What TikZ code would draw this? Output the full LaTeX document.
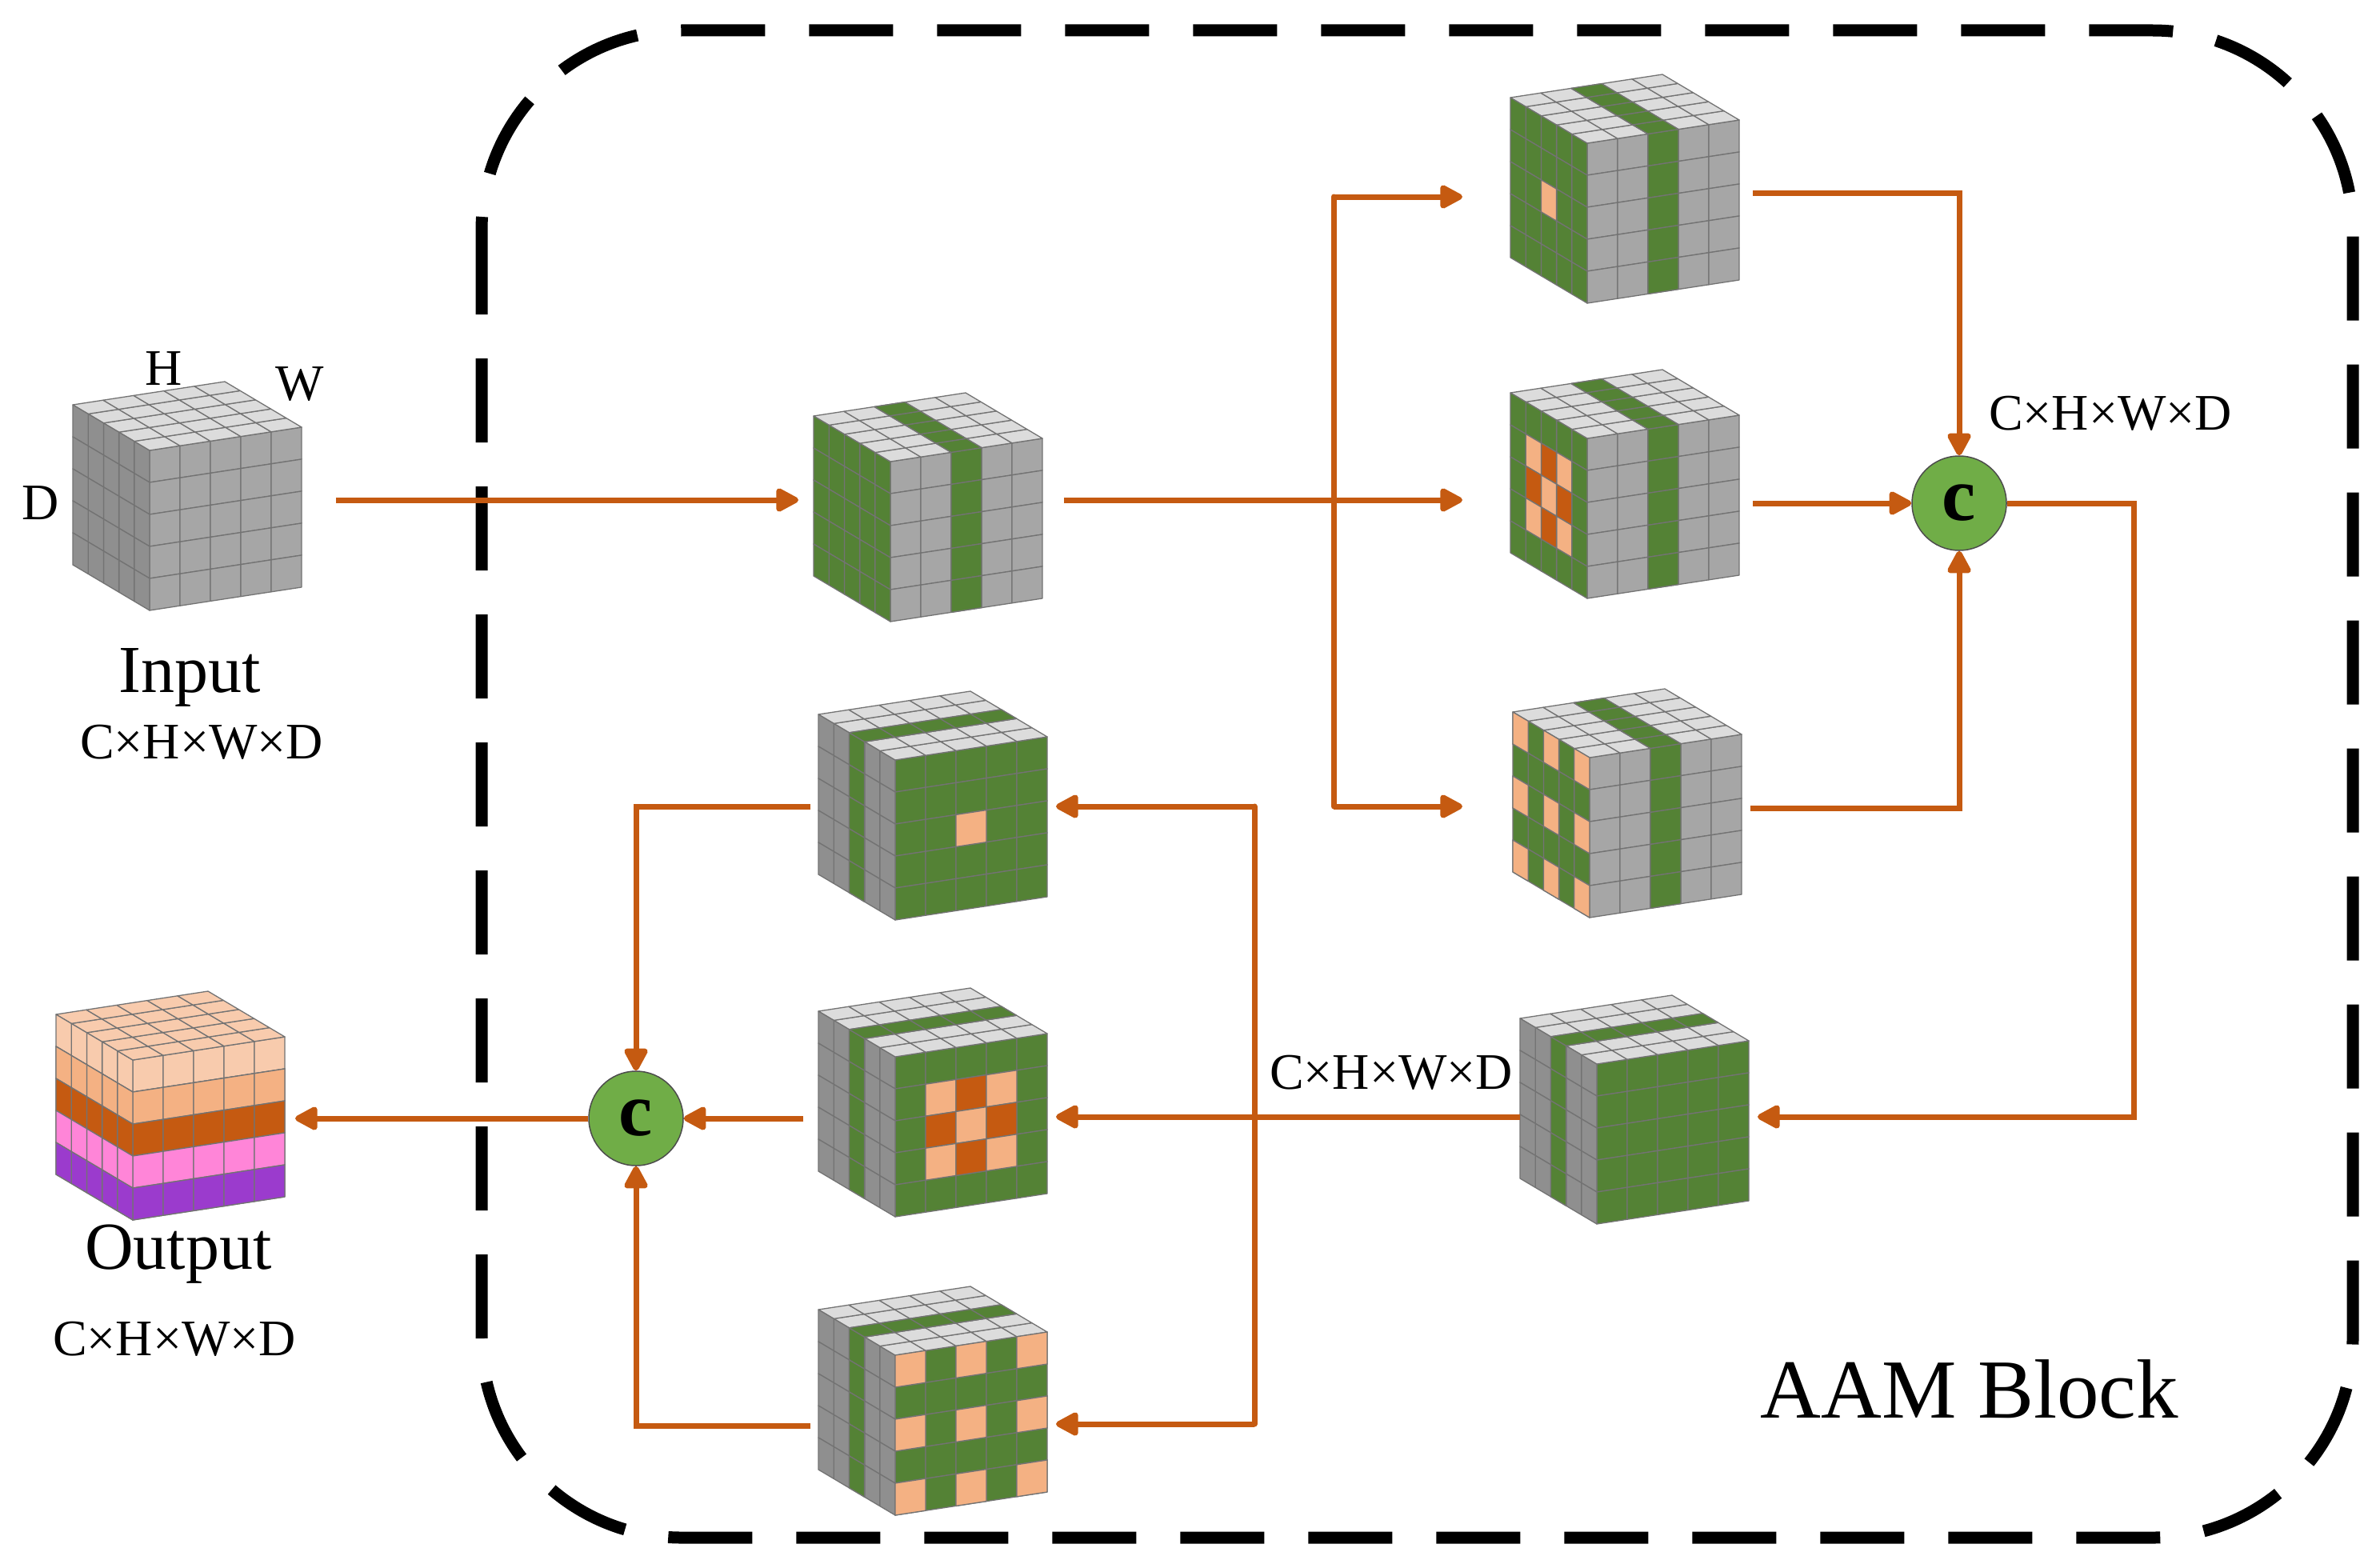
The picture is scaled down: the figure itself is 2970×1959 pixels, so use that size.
\documentclass[tikz,border=0pt]{standalone}
\usepackage{fontspec}
\setmainfont{Liberation Serif}
\usetikzlibrary{arrows.meta}
\definecolor{grn}{HTML}{548235}
\definecolor{pch}{HTML}{F4B183}
\definecolor{dor}{HTML}{C55A11}
\definecolor{lpc}{HTML}{F8CBAD}
\definecolor{pnk}{HTML}{FF85D8}
\definecolor{prp}{HTML}{9B3BCD}
\definecolor{fg}{HTML}{A6A6A6}
\definecolor{lg}{HTML}{8F8F8F}
\definecolor{tg}{HTML}{DCDCDC}
\definecolor{cgr}{HTML}{70AD47}
\tikzset{cl/.style={draw=black!55,line width=1.3pt,line join=round},
 arr/.style={draw=dor,line width=7pt,-{Triangle[length=32pt,width=32pt,round]}},
 ln/.style={draw=dor,line width=7pt},
 cat/.style={circle,fill=cgr,draw=black!70,line width=1.5pt,minimum size=118pt,inner sep=0pt,font=\fontsize{95}{95}\selectfont\bfseries},
 lab/.style={font=\fontsize{64}{70}\selectfont,inner sep=0pt},
 big/.style={font=\fontsize{84}{90}\selectfont,inner sep=0pt}}
\newcommand\fcell[3]{\filldraw[fill=#3,cl] (38*#1,40*#2-5.8*#1) -- ++(38,-5.8) -- ++(0,40) -- ++(-38,5.8) -- cycle;}
\newcommand\lcell[3]{\filldraw[fill=#3,cl] (-19.2*#1,40*#2-11.4*#1) -- ++(-19.2,-11.4) -- ++(0,40) -- ++(19.2,11.4) -- cycle;}
\newcommand\tcell[3]{\filldraw[fill=#3,cl] (38*#1-19.2*#2,-5.8*#1-11.4*#2) -- ++(38,-5.8) -- ++(-19.2,-11.4) -- ++(-38,5.8) -- cycle;}
\newcommand\basecube[3]{\foreach \i in {0,...,4}{\foreach \j in {0,...,4}{\fcell{\i}{\j}{#1}\lcell{\i}{\j}{#2}\tcell{\i}{\j}{#3}}}}
\newcommand\vstripe{\foreach \j in {0,...,4}{\fcell{2}{\j}{grn}\tcell{2}{\j}{grn}}}
\begin{document}
\begin{tikzpicture}[x=1pt,y=-1pt]
\useasboundingbox (0,0) rectangle (2970,1959);
% dashed block
\draw[line width=15pt,dash pattern=on 105pt off 55pt,rounded corners=250pt] (602,38) rectangle (2941,1922);
% input cube
\begin{scope}[shift={(187,563)}]\basecube{fg}{lg}{tg}\end{scope}
% middle cube
\begin{scope}[shift={(1113,577)}]\basecube{fg}{grn}{tg}\vstripe\end{scope}
% top-right cubes
\begin{scope}[shift={(1984,179)}]\basecube{fg}{grn}{tg}\vstripe\lcell{2}{2}{pch}\end{scope}
\begin{scope}[shift={(1984,548)}]\basecube{fg}{grn}{tg}\vstripe
 \foreach \k/\j/\c in {1/1/pch,2/1/dor,3/1/pch,1/2/dor,2/2/pch,3/2/dor,1/3/pch,2/3/dor,3/3/pch}{\lcell{\k}{\j}{\c}}\end{scope}
\begin{scope}[shift={(1987,947)}]\basecube{fg}{grn}{tg}\vstripe
 \foreach \k in {0,2,4}{\foreach \j in {0,2,4}{\lcell{\k}{\j}{pch}}}\end{scope}
% cube 6
\begin{scope}[shift={(1996,1330)}]\basecube{grn}{lg}{tg}
 \foreach \j in {0,...,4}{\lcell{2}{\j}{grn}\tcell{\j}{2}{grn}}\end{scope}
% lower-left cubes
\begin{scope}[shift={(1119,950)}]\basecube{grn}{lg}{tg}
 \foreach \j in {0,...,4}{\lcell{2}{\j}{grn}\tcell{\j}{2}{grn}}\fcell{2}{2}{pch}\end{scope}
\begin{scope}[shift={(1119,1321)}]\basecube{grn}{lg}{tg}
 \foreach \j in {0,...,4}{\lcell{2}{\j}{grn}\tcell{\j}{2}{grn}}
 \foreach \k/\j/\c in {1/1/pch,2/1/dor,3/1/pch,1/2/dor,2/2/pch,3/2/dor,1/3/pch,2/3/dor,3/3/pch}{\fcell{\k}{\j}{\c}}\end{scope}
\begin{scope}[shift={(1119,1694)}]\basecube{grn}{lg}{tg}
 \foreach \j in {0,...,4}{\lcell{2}{\j}{grn}\tcell{\j}{2}{grn}}
 \foreach \k in {0,2,4}{\foreach \j in {0,2,4}{\fcell{\k}{\j}{pch}}}\end{scope}
% output cube
\begin{scope}[shift={(166,1325)}]\basecube{lpc}{lpc}{lpc}
 \foreach \j/\c in {1/pch,2/dor,3/pnk,4/prp}{\foreach \i in {0,...,4}{\fcell{\i}{\j}{\c}\lcell{\i}{\j}{\c}}}\end{scope}
% texts
\node[lab] (tH) at (205,461) {H};
\node[lab] (tW) at (375,480) {W};
\node[lab] (tD) at (51,629) {D};
\node[big] (tin) at (237,847) {Input};
\node[lab] (cin) at (252,928) {C×H×W×D};
\node[big] (tout) at (223,1568) {Output};
\node[lab] (cout) at (218,1674) {C×H×W×D};
\node[lab] (c1) at (2638,517) {C×H×W×D};
\node[lab] (c6) at (1739,1341) {C×H×W×D};
\node[font=\fontsize{105}{110}\selectfont,inner sep=0pt] (aam) at (2462,1737) {AAM Block};
% concat nodes
\node[cat] (C1) at (2449,629) {c};
\node[cat] (C2) at (795,1398) {c};
% ports
\coordinate (inO) at (420,625); \coordinate (midI) at (998,625);
\coordinate (midO) at (1330,625); \coordinate (br) at (1667,625);
\coordinate (brT) at (1667,246); \coordinate (brB) at (1667,1008);
\coordinate (t1I) at (1828,246); \coordinate (t2I) at (1828,625); \coordinate (t3I) at (1828,1008);
\coordinate (t1O) at (2191,241); \coordinate (t2O) at (2191,629); \coordinate (t3O) at (2188,1010);
\coordinate (c1R) at (2667,629); \coordinate (c1D) at (2667,1396); \coordinate (q6I) at (2197,1396);
\coordinate (q6O) at (1900,1396); \coordinate (l2I) at (1320,1396);
\coordinate (br2T) at (1568,1008); \coordinate (br2B) at (1568,1780);
\coordinate (l1I) at (1320,1008); \coordinate (l3I) at (1320,1780);
\coordinate (l1O) at (1013,1008); \coordinate (l2O) at (1004,1398); \coordinate (l3O) at (1013,1782);
\coordinate (outI) at (369,1398);
% connectors
\draw[arr] (inO) -- (midI);
\draw[arr] (midO) -- (t2I);
\draw[ln,line cap=round] (brT) -- (brB);
\draw[arr] (brT) -- (t1I);
\draw[arr] (brB) -- (t3I);
\draw[arr] (t1O) -| (C1.north);
\draw[arr] (t2O) -- (C1.west);
\draw[arr] (t3O) -| (C1.south);
\draw[arr] (C1.east) -- (c1R) -- (c1D) -- (q6I);
\draw[arr] (q6O) -- (l2I);
\draw[ln,line cap=round] (br2T) -- (br2B);
\draw[arr] (br2T) -- (l1I);
\draw[arr] (br2B) -- (l3I);
\draw[arr] (l1O) -| (C2.north);
\draw[arr] (l2O) -- (C2.east);
\draw[arr] (l3O) -| (C2.south);
\draw[arr] (C2.west) -- (outI);
\end{tikzpicture}
\end{document}
